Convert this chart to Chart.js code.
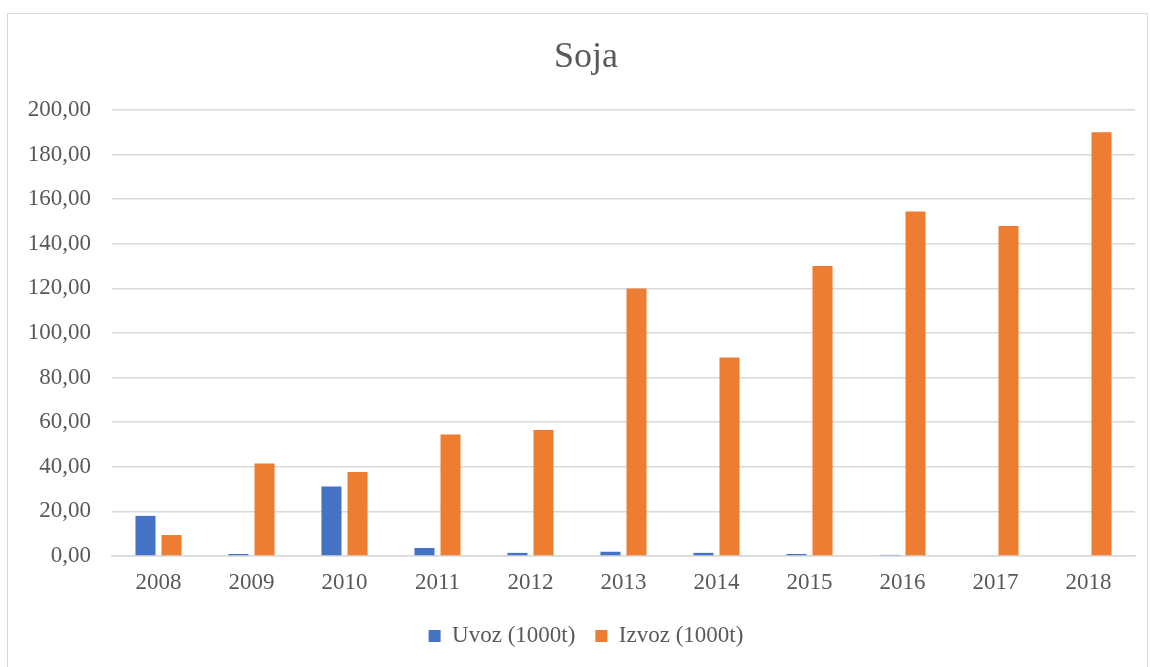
<!DOCTYPE html>
<html>
<head>
<meta charset="utf-8">
<title>Soja</title>
<script src="https://cdn.jsdelivr.net/npm/chart.js@4.4.1/dist/chart.umd.min.js"></script>
<style>
  html, body { margin: 0; padding: 0; background: #fff; }
  .frame {
    position: absolute; left: 7px; top: 13px;
    width: 1141px; height: 670px;
    border: 1px solid #d9d9d9; box-sizing: border-box;
  }
  .wrap { position: absolute; left: 0; top: 0; width: 1150px; height: 667px; }
</style>
</head>
<body>
<div class="frame"></div>
<div class="wrap"><canvas id="chart"></canvas></div>
<script>
const years = ['2008', '2009', '2010', '2011', '2012', '2013', '2014', '2015', '2016', '2017', '2018'];
const uvoz = [18.0, 0.9, 31.2, 3.6, 1.4, 1.9, 1.4, 0.9, 0.5, 0, 0];
const izvoz = [9.4, 41.5, 37.7, 54.5, 56.5, 120.0, 89.0, 130.0, 154.5, 148.0, 190.0];
const yTickLabels = ['0,00', '20,00', '40,00', '60,00', '80,00', '100,00', '120,00', '140,00', '160,00', '180,00', '200,00'];

const textColor = '#595959';
const gridColor = '#d9d9d9';
const fontFamily = "'Liberation Serif', 'Times New Roman', serif";

const ctx = document.getElementById('chart').getContext('2d');

new Chart(ctx, {
  type: 'bar',
  data: {
    labels: years,
    datasets: [
      {
        label: 'Uvoz (1000t)',
        data: uvoz,
        backgroundColor: '#4472C4',
        categoryPercentage: 0.56,
        barPercentage: 0.77,
      },
      {
        label: 'Izvoz (1000t)',
        data: izvoz,
        backgroundColor: '#ED7D31',
        categoryPercentage: 0.56,
        barPercentage: 0.77,
      },
    ],
  },
  options: {
    responsive: true,
    maintainAspectRatio: false,
    animation: false,
    layout: {
      padding: { left: 22, right: 0, top: 0, bottom: 9.5 },
    },
    plugins: {
      title: {
        display: true,
        text: 'Soja',
        color: textColor,
        font: { family: fontFamily, size: 36, weight: 'normal' },
        padding: { top: 36.4, bottom: 30.4 },
      },
      legend: {
        position: 'bottom',
        labels: {
          color: textColor,
          font: { family: fontFamily, size: 23 },
          boxWidth: 12,
          boxHeight: 12,
          padding: 20,
        },
      },
      tooltip: { enabled: false },
    },
    scales: {
      x: {
        grid: { display: false, drawTicks: false },
        border: { color: gridColor, width: 1.5 },
        ticks: {
          color: textColor,
          font: { family: fontFamily, size: 23 },
          padding: 13,
        },
        afterFit: (scale) => { scale.height = 48.5; },
      },
      y: {
        min: 0,
        max: 200,
        grid: { color: gridColor, lineWidth: 1.5, drawTicks: false },
        border: { display: false },
        ticks: {
          stepSize: 20,
          color: textColor,
          font: { family: fontFamily, size: 23 },
          padding: 21,
          callback: (value, index) => yTickLabels[index],
        },
        afterFit: (scale) => { scale.width = 90; },
      },
      // empty right-hand spacer so the plot ends at x=1135 while title/legend stay centred on the frame
      yRight: {
        position: 'right',
        grid: { display: false, drawTicks: false },
        border: { display: false },
        ticks: { display: false },
        afterFit: (scale) => { scale.width = 15; },
      },
    },
  },
});
</script>
</body>
</html>
